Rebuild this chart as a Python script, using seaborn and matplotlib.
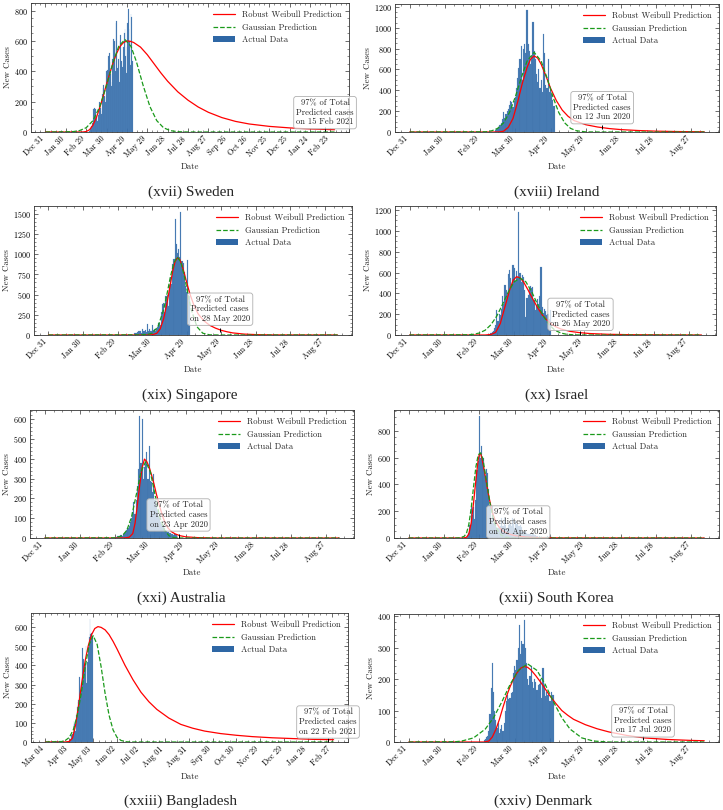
import numpy as np
import pandas as pd
import matplotlib
matplotlib.use("Agg")
import matplotlib.pyplot as plt
import matplotlib.dates as mdates
import matplotlib.transforms as mtransforms
from matplotlib.ticker import MultipleLocator, AutoMinorLocator
from matplotlib.lines import Line2D
from matplotlib.patches import Patch
import seaborn as sns

# ---------------- data: day offsets from each panel's start date ----------------
# Sweden
sweden_start, sweden_end = "2019-12-31", 426
sweden_bar_day0 = 65
sweden_bars = [5, 20, 30, 40, 60, 55, 150, 160, 140, 150,
               100, 60, 70, 110, 130, 200, 160, 140, 120, 250,
               290, 310, 240, 200, 230, 400, 410, 380, 500, 520,
               460, 380, 300, 330, 480, 610, 600, 600, 400, 720,
               730, 420, 340, 480, 330, 600, 640, 470, 380, 430,
               560, 650, 680, 500, 390, 560, 720, 810, 680, 600,
               440, 780, 760, 470]
sweden_wb_days = [0, 55, 60, 65, 70, 75, 80, 85, 90, 95, 100, 105, 110, 115, 120, 125, 130, 140, 150,
                  160, 170, 180, 195, 210, 225, 240, 260, 280, 300, 330, 360, 390, 426]
sweden_wb_vals = [0, 0, 3, 15, 45, 95, 160, 235, 315, 390, 460, 520, 565, 590, 600, 598, 590, 560, 510,
                  450, 390, 335, 265, 210, 165, 130, 95, 70, 53, 37, 27, 20, 15]
sweden_gs_days = [0, 40, 50, 60, 70, 80, 90, 100, 108, 117, 126, 134, 144, 154, 164, 174, 184, 195, 210, 426]
sweden_gs_vals = [0, 2, 9, 28, 75, 167, 306, 464, 565, 610, 565, 464, 306, 167, 75, 28, 9, 2, 0, 0]

# Ireland
ireland_start, ireland_end = "2019-12-31", 251
ireland_bar_day0 = 73
ireland_bars = [15, 25, 35, 50, 70, 90, 120, 190, 130, 170, 200, 220, 260, 300, 290, 240, 300, 340,
                420, 520, 610, 700, 830, 500, 800, 840, 760, 1170, 840, 780, 650, 730, 1060, 780,
                700, 560, 480, 600, 420, 500, 380, 940, 760, 450, 420, 700, 380, 400, 360, 310, 250]
ireland_wb_days = [0, 76, 80, 84, 88, 92, 96, 100, 103, 106, 109, 112, 116, 120, 125, 130, 135, 140,
                   150, 160, 170, 180, 195, 210, 230, 251]
ireland_wb_vals = [0, 0, 8, 45, 130, 290, 470, 620, 700, 730, 710, 650, 540, 420, 300, 210, 150, 110,
                   70, 48, 33, 23, 14, 8, 4, 2]
ireland_gs_days = [0, 65, 70, 75, 80, 85, 90, 95, 100, 106, 112, 117, 122, 127, 132, 137, 142, 150, 160, 251]
ireland_gs_vals = [0, 2, 12, 35, 88, 187, 338, 519, 681, 765, 681, 519, 338, 187, 88, 35, 12, 1, 0, 0]

# Singapore
singapore_start, singapore_end = "2019-12-31", 251
singapore_bar_day0 = 75
singapore_bars = [25, 30, 40, 50, 45, 50, 30, 70, 50, 60, 40, 137, 45, 75, 50, 125, 65, 70, 50, 80,
                  100, 145, 120, 280, 380, 390, 280, 480, 500, 360, 620, 720, 630, 880, 940, 1430,
                  1120, 1020, 1070, 960, 1520, 920, 890, 780, 610, 530, 930, 480]
singapore_wb_days = [0, 85, 90, 94, 97, 100, 103, 106, 108, 110, 112, 114, 116, 118, 120, 123, 126, 130,
                     135, 140, 145, 150, 155, 160, 170, 180, 195, 251]
singapore_wb_vals = [0, 0, 3, 20, 75, 200, 400, 640, 800, 910, 955, 935, 860, 760, 650, 500, 380, 260,
                     175, 120, 85, 58, 40, 26, 11, 5, 1, 0]
singapore_gs_days = [0, 80, 86, 90, 95, 100, 103, 106, 109, 112, 115, 118, 121, 124, 129, 134, 140, 148, 251]
singapore_gs_vals = [0, 2, 8, 22, 101, 313, 513, 728, 897, 965, 897, 728, 513, 313, 101, 22, 2, 0, 0]

# Israel
israel_start, israel_end = "2019-12-31", 251
israel_bar_day0 = 70
israel_bars = [20, 30, 40, 70, 100, 240, 130, 200, 190, 250, 370, 300, 480, 430, 390, 590, 620, 550,
               480, 670, 640, 520, 610, 560, 1180, 600, 510, 580, 560, 430, 170, 360, 380, 450, 470,
               450, 460, 340, 240, 280, 350, 300, 370, 650, 270, 210, 250, 230, 190, 200, 150, 240]
israel_wb_days = [0, 65, 70, 74, 78, 82, 86, 89, 92, 95, 98, 102, 106, 110, 114, 118, 122, 126, 130,
                  138, 146, 155, 170, 190, 220, 251]
israel_wb_vals = [0, 0, 5, 25, 110, 270, 430, 525, 560, 550, 510, 430, 345, 265, 195, 145, 105, 78, 58,
                  35, 23, 14, 7, 3, 1, 0]
israel_gs_days = [0, 50, 55, 60, 65, 70, 75, 80, 85, 90, 95, 100, 105, 110, 115, 120, 125, 130, 135,
                  142, 150, 251]
israel_gs_vals = [0, 2, 7, 19, 46, 99, 182, 295, 416, 511, 547, 511, 416, 295, 182, 99, 46, 19, 7, 1, 0, 0]

# Australia
australia_start, australia_end = "2019-12-31", 251
australia_bar_day0 = 60
australia_bars = [3, 5, 8, 10, 10, 15, 12, 20, 25, 30,
                  40, 50, 60, 80, 100, 130, 180,
                  120, 190, 260, 350, 615, 380, 600,
                  300, 360, 380, 435, 300, 465, 290, 280, 230, 325,
                  190, 170, 140, 110, 100, 80, 70, 60, 50, 40,
                  35, 30, 25, 25, 20, 18, 15, 20, 15]
australia_wb_days = [0, 68, 72, 75, 77, 79, 81, 83, 85, 87, 89, 91, 93, 95, 97, 99, 101, 103, 105, 108,
                     111, 115, 120, 130, 145, 251]
australia_wb_vals = [0, 0, 4, 22, 75, 170, 270, 355, 398, 385, 358, 318, 275, 225, 180, 138, 100, 72, 51,
                     32, 21, 12, 6, 2, 0, 0]
australia_gs_days = [0, 60, 66, 70, 74, 78, 82, 86, 90, 94, 98, 102, 106, 110, 116, 251]
australia_gs_vals = [0, 1, 11, 39, 107, 218, 334, 385, 334, 218, 107, 39, 11, 2, 0, 0]

# South Korea
korea_start, korea_end = "2019-12-31", 251
korea_bar_day0 = 49
korea_bars = [1, 15, 34, 100, 229, 169, 231, 144, 284, 505, 571, 909, 595, 686, 600, 516, 438, 518,
              483, 367, 248, 131, 242, 114, 110, 107, 76, 74, 84, 93, 152, 87, 147, 98, 64, 76, 100,
              104, 91, 146, 105, 78, 125, 101, 89, 86, 94, 81, 47, 47, 53, 39, 27, 30, 32, 25, 27, 27,
              22, 22, 18, 8, 13, 9, 11, 8, 6, 10, 10, 14, 9, 4, 9]
korea_wb_days = [0, 46, 49, 51, 53, 55, 57, 59, 60, 61, 62, 64, 66, 68, 70, 72, 74, 77, 80, 84, 90,
                 100, 110, 125, 251]
korea_wb_vals = [0, 0, 5, 30, 110, 260, 430, 585, 625, 630, 600, 510, 410, 310, 228, 165, 120, 78, 52,
                 33, 18, 7, 3, 1, 0]
korea_gs_days = [0, 40, 44, 47, 49, 51, 53, 55, 57, 59, 61, 63, 65, 67, 69, 71, 73, 75, 78, 82, 88, 251]
korea_gs_vals = [0, 0, 2, 12, 35, 100, 220, 380, 530, 620, 635, 590, 480, 370, 260, 175, 110, 65, 25,
                 6, 0, 0]

# Bangladesh
bangla_start, bangla_end = "2020-03-04", 362
bangla_bar_day0 = 4
bangla_bars = [3, 0, 0, 0, 0, 0, 0, 0, 2, 4, 2, 3, 0, 6, 3, 6, 0, 0, 0, 0, 0, 0, 1, 2,
               2, 2, 5, 9, 18, 35, 41, 54, 112, 94, 58, 139, 182, 209, 219, 341, 266, 306, 312,
               492, 434, 390, 414, 503, 309, 418, 497, 549, 641, 564, 571, 552]
bangla_wb_days = [0, 25, 30, 34, 38, 42, 46, 50, 54, 58, 62, 66, 70, 75, 80, 85, 90, 100, 110, 120,
                  130, 140, 155, 170, 185, 200, 220, 240, 260, 285, 310, 335, 362]
bangla_wb_vals = [0, 0, 3, 20, 90, 200, 320, 425, 505, 560, 592, 602, 598, 585, 560, 525, 485, 400,
                  325, 260, 210, 170, 125, 92, 72, 57, 44, 35, 28, 22, 18, 14, 12]
bangla_gs_days = [0, 20, 25, 30, 35, 40, 45, 50, 55, 60, 65, 70, 75, 80, 85, 90, 95, 102, 110, 362]
bangla_gs_vals = [0, 2, 8, 24, 63, 139, 253, 392, 509, 555, 509, 392, 253, 139, 63, 24, 8, 1, 0, 0]

# Denmark
denmark_start, denmark_end = "2019-12-31", 251
denmark_bar_day0 = 64
denmark_bars = [5, 10, 15, 20, 35, 90, 170, 252, 160, 100, 70, 45, 60, 30, 40, 55, 35, 60,
                100, 130, 150, 135, 140, 155, 160, 220, 240, 230, 260, 300, 370, 280, 320, 310, 387, 300,
                250, 200, 180, 210, 240, 190, 170, 200, 190, 165, 180, 185, 200, 140, 235, 180, 145, 160,
                150, 155, 130, 160, 150, 150]
denmark_wb_days = [0, 64, 68, 71, 74, 77, 80, 83, 86, 89, 92, 95, 98, 101, 104, 108, 112, 116, 120, 125,
                   130, 135, 140, 150, 160, 170, 185, 200, 220, 240, 251]
denmark_wb_vals = [0, 0, 3, 16, 40, 72, 110, 145, 175, 200, 220, 234, 240, 237, 228, 210, 190, 168, 146,
                   122, 100, 85, 72, 55, 42, 32, 21, 13, 8, 5, 4]
denmark_gs_days = [0, 40, 45, 55, 65, 72, 79, 86, 93, 101, 109, 116, 123, 130, 137, 147, 157, 170, 251]
denmark_gs_vals = [0, 1, 3, 13, 41, 77, 127, 182, 227, 248, 227, 182, 127, 77, 41, 13, 3, 0, 0]

captions = ["(xvii) Sweden", "(xviii) Ireland", "(xix) Singapore", "(xx) Israel",
            "(xxi) Australia", "(xxii) South Korea", "(xxiii) Bangladesh", "(xxiv) Denmark"]
note_dates = ["15 Feb 2021", "12 Jun 2020", "28 May 2020", "26 May 2020",
              "23 Apr 2020", "02 Apr 2020", "22 Feb 2021", "17 Jul 2020"]
note_days = [412, 164, 149, 147, 114, 93, 355, 199]
note_vals = [17, 45, 60, 22, 12, 12, 13, 13]
y_steps = [200, 200, 250, 200, 100, 200, 100, 100]
n_xticks = [15, 9, 9, 9, 9, 9, 13, 9]

panels = [
    (sweden_start, sweden_end, sweden_bar_day0, sweden_bars, sweden_wb_days, sweden_wb_vals, sweden_gs_days, sweden_gs_vals),
    (ireland_start, ireland_end, ireland_bar_day0, ireland_bars, ireland_wb_days, ireland_wb_vals, ireland_gs_days, ireland_gs_vals),
    (singapore_start, singapore_end, singapore_bar_day0, singapore_bars, singapore_wb_days, singapore_wb_vals, singapore_gs_days, singapore_gs_vals),
    (israel_start, israel_end, israel_bar_day0, israel_bars, israel_wb_days, israel_wb_vals, israel_gs_days, israel_gs_vals),
    (australia_start, australia_end, australia_bar_day0, australia_bars, australia_wb_days, australia_wb_vals, australia_gs_days, australia_gs_vals),
    (korea_start, korea_end, korea_bar_day0, korea_bars, korea_wb_days, korea_wb_vals, korea_gs_days, korea_gs_vals),
    (bangla_start, bangla_end, bangla_bar_day0, bangla_bars, bangla_wb_days, bangla_wb_vals, bangla_gs_days, bangla_gs_vals),
    (denmark_start, denmark_end, denmark_bar_day0, denmark_bars, denmark_wb_days, denmark_wb_vals, denmark_gs_days, denmark_gs_vals),
]

# ---------------- layout (pixels of the 723x810 canvas) ----------------
W, H = 723, 810
axes_px = [(31, 3, 349, 132), (395, 4, 719, 132),
           (34, 206, 352, 335), (395, 206, 716, 335),
           (30, 410, 354, 538), (394, 410, 719, 538),
           (31, 613, 348, 742), (394, 614, 719, 742)]
caption_px = [(191, 192), (557, 192), (190, 395), (557, 395),
              (181, 598), (556, 598), (180, 801), (543, 801)]
note_yfrac = [0.15, 0.19, 0.2, 0.16, 0.18, 0.125, 0.155, 0.165]

BAR_COLOR = "#2e67a5"

sns.set_style("ticks")
plt.rcParams.update({
    "font.family": ["cmr10", "DejaVu Serif"],
    "mathtext.fontset": "cm",
    "axes.formatter.use_mathtext": True,
    "axes.linewidth": 0.6,
    "axes.edgecolor": "#333333",
    "xtick.direction": "in", "ytick.direction": "in",
    "xtick.top": True, "ytick.right": True,
    "xtick.major.size": 2.6, "ytick.major.size": 2.6,
    "xtick.minor.size": 1.4, "ytick.minor.size": 1.4,
    "xtick.major.width": 0.5, "ytick.major.width": 0.5,
    "xtick.minor.width": 0.4, "ytick.minor.width": 0.4,
    "xtick.color": "#333333", "ytick.color": "#333333",
    "xtick.labelcolor": "black", "ytick.labelcolor": "black",
    "xtick.labelsize": 5.8, "ytick.labelsize": 5.8,
    "xtick.major.pad": 2.0, "ytick.major.pad": 2.0,
    "axes.labelsize": 6.4,
})

fig = plt.figure(figsize=(W / 100, H / 100), dpi=100)

for i, (start, end, day0, bars, wb_d, wb_v, gs_d, gs_v) in enumerate(panels):
    x0, y0, x1, y1 = axes_px[i]
    ax = fig.add_axes([x0 / W, 1 - y1 / H, (x1 - x0) / W, (y1 - y0) / H])
    base = mdates.date2num(pd.Timestamp(start))

    sns.lineplot(x=base + np.array(wb_d, dtype=float), y=wb_v, ax=ax, color="red",
                 linewidth=0.9, zorder=3)
    sns.lineplot(x=base + np.array(gs_d, dtype=float), y=gs_v, ax=ax, color="#1a9a1a",
                 linewidth=0.9, linestyle="--", zorder=3)
    bar_x = base + np.arange(day0, day0 + len(bars))
    ax.bar(bar_x, bars, width=1.0, color=BAR_COLOR, alpha=0.9, edgecolor="#5a8cc4",
           linewidth=0.15, zorder=2)

    ticks = base + 30 * np.arange(n_xticks[i])
    ax.set_xticks(ticks)
    ax.xaxis.set_major_formatter(mdates.DateFormatter("%b %d"))
    ax.xaxis.set_minor_locator(AutoMinorLocator(4))
    plt.setp(ax.get_xticklabels(), rotation=45, ha="right")
    ax.yaxis.set_major_locator(MultipleLocator(y_steps[i]))
    ax.yaxis.set_minor_locator(AutoMinorLocator())
    ax.set_xlabel("Date", labelpad=2)
    ax.set_ylabel("New Cases", labelpad=2)

    # 97% marker and note
    nx = base + note_days[i]
    ax.plot([nx], [note_vals[i]], marker="|", color="black", markersize=3.5,
            markeredgewidth=0.7, zorder=4)
    trans = mtransforms.blended_transform_factory(ax.transData, ax.transAxes)
    ax.text(nx, note_yfrac[i], "97% of Total\nPredicted cases\non " + note_dates[i],
            transform=trans, ha="center", va="center", fontsize=6.2, linespacing=1.15,
            bbox=dict(boxstyle="round,pad=0.3", fc=(1, 1, 1, 0.75), ec="#b0b0b0", lw=0.6),
            zorder=5, clip_on=False)

    handles = [Line2D([], [], color="red", lw=0.9),
               Line2D([], [], color="#1a9a1a", lw=0.9, ls="--"),
               Patch(facecolor=BAR_COLOR, edgecolor="none")]
    ax.legend(handles, ["Robust Weibull Prediction", "Gaussian Prediction", "Actual Data"],
              loc="upper right", frameon=False, fontsize=6.1, handlelength=2.6,
              labelspacing=0.5, borderaxespad=0.5)

    cx, cy = caption_px[i]
    fig.text(cx / W, 1 - cy / H, captions[i], ha="center", va="center", fontsize=11,
             family="Liberation Serif")

fig.savefig("out.png", dpi=100)
